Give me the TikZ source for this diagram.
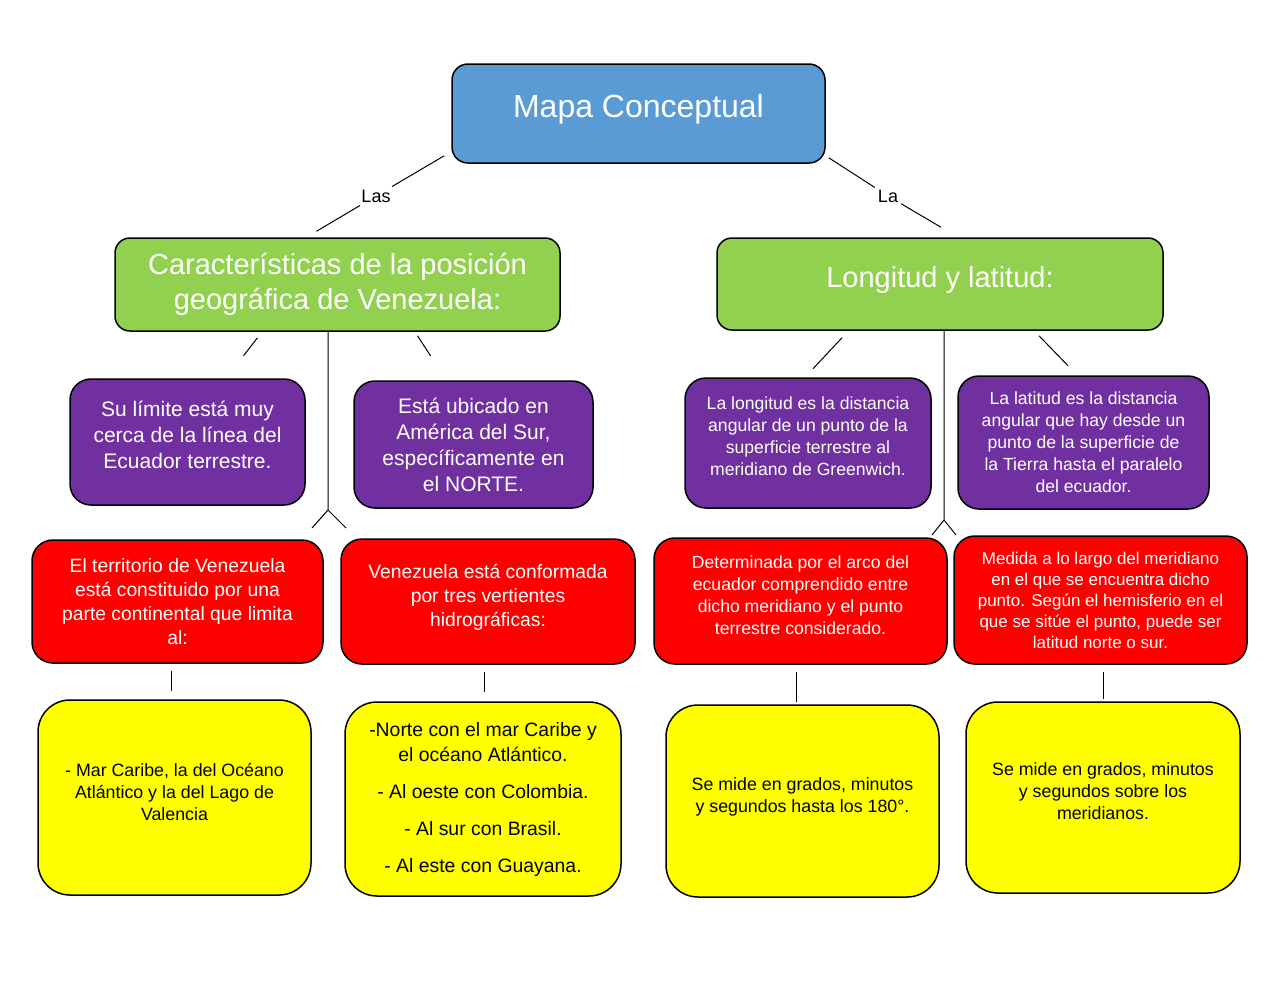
\documentclass[tikz,border=0pt]{standalone}
\usepackage{fontspec}
\setmainfont{Liberation Sans}
\usetikzlibrary{positioning}
\definecolor{mapblue}{HTML}{5B9BD5}
\definecolor{mapgreen}{HTML}{92D050}
\definecolor{mappurple}{HTML}{7030A0}
\definecolor{mapred}{HTML}{FF0000}
\definecolor{mapyellow}{HTML}{FFFF00}
\tikzset{
  box/.style={draw=black, line width=1.5pt, align=center, inner sep=0pt, text=white},
  bluebox/.style={box, fill=mapblue, rounded corners=16pt},
  greenbox/.style={box, fill=mapgreen, rounded corners=15pt, font=\fontsize{29}{35}\selectfont},
  purplebox/.style={box, fill=mappurple, rounded corners=21pt},
  redbox/.style={box, fill=mapred, rounded corners=21pt},
  yellowbox/.style={box, fill=mapyellow, rounded corners=32pt, text=black},
  lbl/.style={inner sep=3pt, font=\fontsize{18}{21}\selectfont},
  link/.style={line width=1pt},
}
\begin{document}
\begin{tikzpicture}[x=1pt,y=-1pt]
        \fill[white] (0,0) rectangle (1280,989);

        \node[bluebox, minimum width=373pt, minimum height=99pt, text depth=15pt, font=\fontsize{32}{38}\selectfont] (map) at (638.5,113.5) {Mapa Conceptual};

        \node[greenbox, minimum width=445pt, minimum height=93pt] (gl) at (337.5,284.5) {Características de la posición\\geográfica de Venezuela:};
        \node[greenbox, minimum width=446pt, minimum height=92pt, text depth=14pt] (gr) at (940,284) {Longitud y latitud:};

        \node[purplebox, minimum width=235pt, minimum height=126pt, text depth=14pt, font=\fontsize{21}{26}\selectfont] (p1) at (187.5,442) {Su límite está muy\\cerca de la línea del\\Ecuador terrestre.};
        \node[purplebox, minimum width=239pt, minimum height=127pt, font=\fontsize{21}{26}\selectfont] (p2) at (473.5,444.5) {Está ubicado en\\América del Sur,\\específicamente en\\el NORTE.};
        \node[purplebox, minimum width=246pt, minimum height=130pt, text depth=14pt, font=\fontsize{17.6}{22}\selectfont] (p3) at (808,443) {La longitud es la distancia\\angular de un punto de la\\superficie terrestre al\\meridiano de Greenwich.};
        \node[purplebox, minimum width=251pt, minimum height=133pt, font=\fontsize{17.6}{22}\selectfont] (p4) at (1083.5,442.5) {La latitud es la distancia\\angular que hay desde un\\punto de la superficie de\\la Tierra hasta el paralelo\\del ecuador.};

        \node[redbox, minimum width=291pt, minimum height=123pt, font=\fontsize{19.3}{24}\selectfont] (r1) at (177.5,601.5) {El territorio de Venezuela\\está constituido por una\\parte continental que limita\\al:};
        \node[redbox, minimum width=294pt, minimum height=125pt, text depth=12pt, font=\fontsize{19.3}{24}\selectfont] (r2) at (488,601.5) {Venezuela está conformada\\por tres vertientes\\hidrográficas:};
        \node[redbox, minimum width=293pt, minimum height=126pt, text depth=12pt, font=\fontsize{17.6}{22}\selectfont] (r3) at (800.5,601) {Determinada por el arco del\\ecuador comprendido entre\\dicho meridiano y el punto\\terrestre considerado.};
        \node[redbox, minimum width=293pt, minimum height=128pt, font=\fontsize{17}{21}\selectfont] (r4) at (1100.5,600) {Medida a lo largo del meridiano\\en el que se encuentra dicho\\punto. Según el hemisferio en el\\que se sitúe el punto, puede ser\\latitud norte o sur.};

        \node[yellowbox, minimum width=273pt, minimum height=195pt, text depth=12pt, font=\fontsize{17.8}{22}\selectfont] (y1) at (174.5,797.5) {- Mar Caribe, la del Océano\\Atlántico y la del Lago de\\Valencia};
        \node[yellowbox, minimum width=276pt, minimum height=194pt, font=\fontsize{19.4}{25}\selectfont] (y2) at (483,799) {-Norte con el mar Caribe y\\el océano Atlántico.\\[12pt] - Al oeste con Colombia.\\[12pt] - Al sur con Brasil.\\[12pt] - Al este con Guayana.};
        \node[yellowbox, minimum width=273pt, minimum height=192pt, text depth=12pt, font=\fontsize{17.8}{22}\selectfont] (y3) at (802.5,801) {Se mide en grados, minutos\\y segundos hasta los 180°.};
        \node[yellowbox, minimum width=274pt, minimum height=191pt, text depth=12pt, font=\fontsize{17.8}{22}\selectfont] (y4) at (1103,797.5) {Se mide en grados, minutos\\y segundos sobre los\\meridianos.};

        % top level links
        \node[lbl] (las) at (376,196) {Las};
        \node[lbl] (la) at (888,196) {La};
        \draw[link] ([shift={(-7,-8)}]map.south west) -- (las);
        \draw[link] (las) -- ([shift={(-21,-6)}]gl.north);
        \draw[link] ([shift={(3,-6)}]map.south east) -- (la);
        \draw[link] (la) -- ([shift={(1,-10)}]gr.north);

        % under the green boxes
        \coordinate (forkL) at (328,510);
        \coordinate (forkR) at (944,520);
        \draw[link] (forkL |- gl.south) -- (forkL) -- +(-16,18) (forkL) -- +(18,18);
        \draw[link] (forkR |- gr.south) -- (forkR) -- +(-12,15) (forkR) -- +(12,15);
        \draw[link] ([shift={(-80,6)}]gl.south) -- +(-14,18);
        \draw[link] ([shift={(80,4)}]gl.south) -- +(13,20);
        \draw[link] ([shift={(-98,7)}]gr.south) -- +(-29,31);
        \draw[link] ([shift={(99,5)}]gr.south) -- +(29,30);

        % ticks to the yellow boxes
        \foreach \a/\dx/\len in {r1/-6/20, r2/-4/20, r3/-4/30, r4/3/27}
                \draw[link] ([shift={(\dx,7)}]\a.south) -- +(0,\len);
\end{tikzpicture}
\end{document}
